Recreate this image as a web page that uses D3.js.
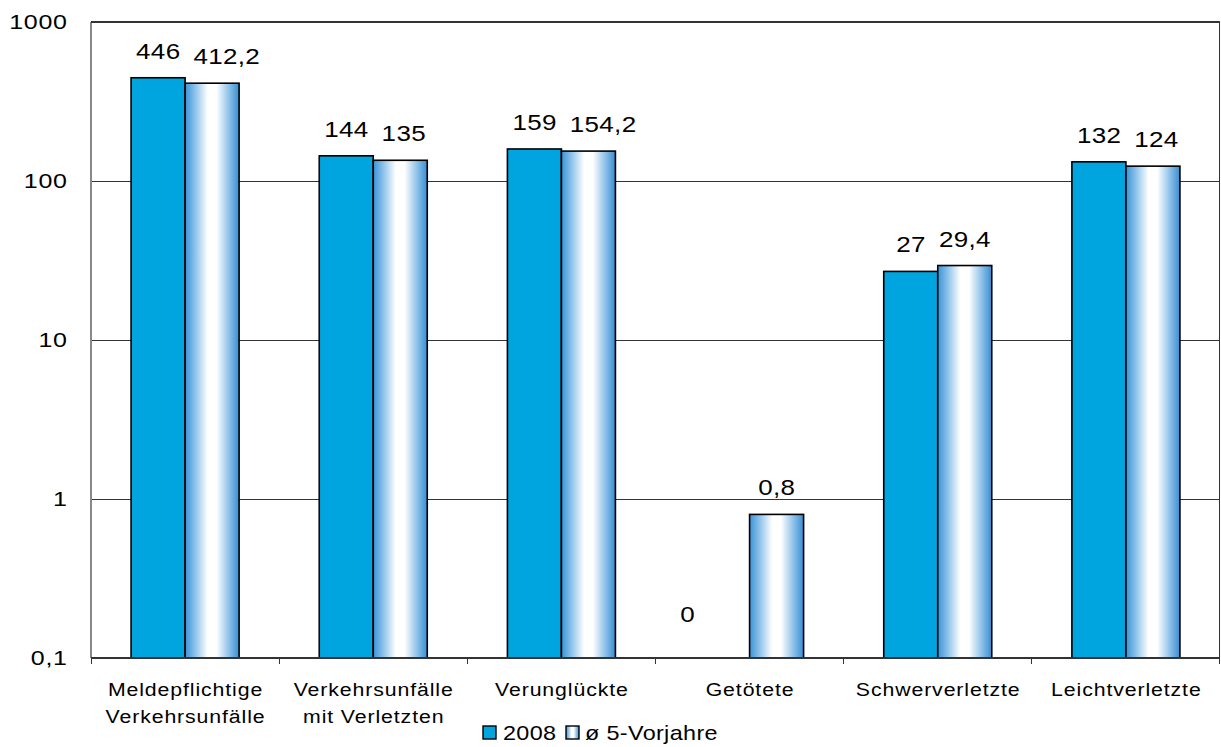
<!DOCTYPE html>
<html><head><meta charset="utf-8">
<script src="https://cdn.jsdelivr.net/npm/d3@7"></script>
<style>
body{margin:0;background:#fff}
text{font-family:"Liberation Sans",Arial,Helvetica,sans-serif;fill:#000}
line{shape-rendering:crispEdges}
</style>
</head><body>
<svg id="c" width="1221" height="747"></svg>
<script>
const categories = ["Meldepflichtige\nVerkehrsunfälle","Verkehrsunfälle\nmit Verletzten","Verunglückte","Getötete","Schwerverletzte","Leichtverletzte"];
const seriesNames = ["2008","ø 5-Vorjahre"];
const values2008 = [446,144,159,0,27,132];
const valuesAvg = [412.2,135,154.2,0.8,29.4,124];
const valueLabels2008 = ["446","144","159","0","27","132"];
const valueLabelsAvg = ["412,2","135","154,2","0,8","29,4","124"];
const yTicks = [0.1,1,10,100,1000];
const yTickLabels = ["0,1","1","10","100","1000"];

const svg = d3.select("#c");
const L=91, R=1220, T=22, B=658;
const BLUE="#00a4de";

function stext(parent, x, y, str, o){
  const ls=o.ls||0, anchor=o.anchor||"start";
  const dx = anchor==="middle" ? ls/2 : anchor==="end" ? ls : 0;
  return parent.append("text")
    .attr("transform",`translate(${x},${y}) scale(${o.sx},1)`)
    .attr("x",0).attr("y",0).attr("dx",dx)
    .attr("text-anchor",anchor).attr("font-size",o.size)
    .style("letter-spacing",ls+"px").text(str);
}

const defs = svg.append("defs");
const g = defs.append("linearGradient").attr("id","grad").attr("x1","0").attr("x2","1").attr("y1","0").attr("y2","0");
[[0,"#3a93d6"],[0.18,"#8ac1ea"],[0.42,"#ffffff"],[0.58,"#ffffff"],[0.82,"#8abfe8"],[1,"#378ed2"]].forEach(s=>g.append("stop").attr("offset",s[0]).attr("stop-color",s[1]));

const x = d3.scaleBand().domain(categories).range([L,R]).paddingInner(0).paddingOuter(0);
const xs = d3.scaleBand().domain([0,1]).range([0,x.bandwidth()]).paddingInner(0).paddingOuter(0.742);
const y = d3.scaleLog().domain([0.1,1000]).range([B,T]);

// gridlines
svg.append("g").selectAll("line").data(yTicks.filter(t=>t>0.1)).join("line")
  .attr("x1",L).attr("x2",R).attr("y1",d=>y(d)).attr("y2",d=>y(d))
  .attr("stroke","#333").attr("stroke-width",1);
svg.append("line").attr("x1",R-0.5).attr("x2",R-0.5).attr("y1",T).attr("y2",B).attr("stroke","#333").attr("stroke-width",1.5);

// y labels
const yl = svg.append("g");
yTicks.forEach((t,i)=>stext(yl, 67, y(t)+7, yTickLabels[i], {size:20, sx:1.25, ls:0.6, anchor:"end"}));

// bars
const series = [values2008, valuesAvg];
const labels = [valueLabels2008, valueLabelsAvg];
const fills = [BLUE, "url(#grad)"];
series.forEach((vals,si)=>{
  svg.append("g").selectAll("rect").data(categories.map((c,i)=>({c,v:vals[i]})).filter(d=>d.v>0)).join("rect")
    .attr("x",d=>x(d.c)+xs(si)).attr("width",xs.bandwidth())
    .attr("y",d=>y(d.v)).attr("height",d=>B-y(d.v))
    .attr("fill",fills[si]).attr("stroke","#000").attr("stroke-width",1.6);
});

// axes lines
svg.append("line").attr("x1",L).attr("x2",L).attr("y1",T).attr("y2",B).attr("stroke","#888").attr("stroke-width",2);
svg.append("line").attr("x1",L).attr("x2",R).attr("y1",T).attr("y2",T).attr("stroke","#333").attr("stroke-width",1.5);
svg.append("line").attr("x1",L).attr("x2",R).attr("y1",B).attr("y2",B).attr("stroke","#333").attr("stroke-width",1.5);
const bounds = categories.map(c=>x(c)).concat([R-0.5]);
svg.append("g").selectAll("line").data(bounds).join("line")
  .attr("x1",d=>d).attr("x2",d=>d).attr("y1",B).attr("y2",B+6).attr("stroke","#333").attr("stroke-width",1);

// value labels with simple collision avoidance inside each group
const VS={size:22, sx:1.18, ls:0.3, anchor:"middle"};
const vl = svg.append("g");
categories.forEach((c,i)=>{
  const pos = [0,1].map(si=>{
    const v=series[si][i];
    return v>0 ? {x:x(c)+xs(si)+xs.bandwidth()/2, y:y(v)-19}
               : {x:x(c)+xs(si)-8, y:y(0.19)+8};
  });
  const els = [0,1].map(si=>stext(vl,pos[si].x,pos[si].y,labels[si][i],VS));
  const w = els.map(e=>e.node().getComputedTextLength()*VS.sx);
  const gap = (pos[1].x - w[1]/2) - (pos[0].x + w[0]/2);
  if (series[0][i]>0 && gap<13){
    const shift = 13-gap;
    els[1].attr("transform",`translate(${pos[1].x+shift},${pos[1].y}) scale(${VS.sx},1)`);
  }
});

// category labels
const cl = svg.append("g");
categories.forEach(c=>{
  c.split("\n").forEach((ln,i)=>stext(cl, x(c)+x.bandwidth()/2, 696+i*27, ln, {size:19, sx:1.12, ls:0.8, anchor:"middle"}));
});

// legend
const leg = svg.append("g");
const legX=[483,566], legTX=[503,585];
seriesNames.forEach((n,i)=>{
  leg.append("rect").attr("x",legX[i]).attr("y",726).attr("width",13).attr("height",13)
    .attr("fill",fills[i]).attr("stroke","#000").attr("stroke-width",1.4);
  stext(leg, legTX[i], 740, n, {size:20, sx:1.17, ls:0.3});
});
</script>
</body></html>
